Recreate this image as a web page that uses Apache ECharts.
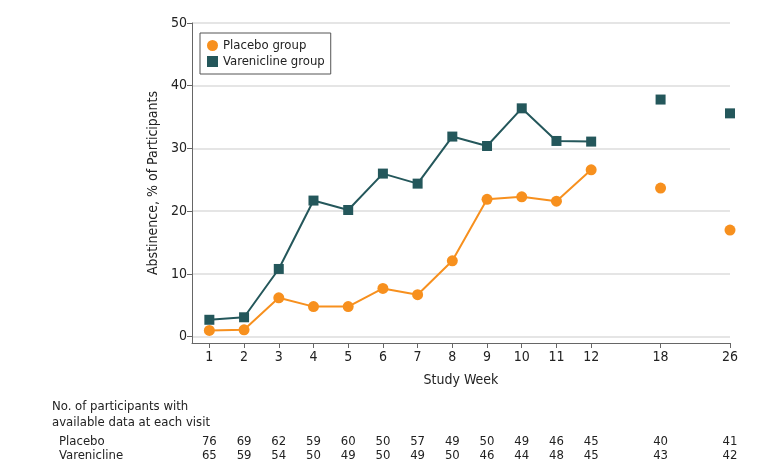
<!DOCTYPE html>
<html><head><meta charset="utf-8">
<script src="https://cdn.jsdelivr.net/npm/echarts@6/dist/echarts.min.js"></script>
<style>html,body{margin:0;padding:0;background:#fff}#c{width:780px;height:472px}</style>
</head><body><div id="c"></div>
<script>
// Data
const weeks = [1,2,3,4,5,6,7,8,9,10,11,12,18,26];
const placebo = [1.0,1.1,6.2,4.8,4.8,7.7,6.7,12.1,21.9,22.3,21.6,26.6,23.7,17.0];
const varenicline = [2.7,3.1,10.8,21.7,20.2,26.0,24.4,31.9,30.4,36.4,31.2,31.1,37.8,35.6];
const nPlacebo = [76,69,62,59,60,50,57,49,50,49,46,45,40,41];
const nVarenicline = [65,59,54,50,49,50,49,50,46,44,48,45,43,42];
const yTicks = [0,10,20,30,40,50];

// broken axis: weeks 1-12 one slot each, later visits two slots apart
const slot = i => i < 12 ? weeks[i] : 12 + (i - 11) * 2;
const slots = weeks.map((w, i) => slot(i));
const weekBySlot = {}; const npBySlot = {}; const nvBySlot = {};
slots.forEach((s, i) => { weekBySlot[s] = weeks[i]; npBySlot[s] = nPlacebo[i]; nvBySlot[s] = nVarenicline[i]; });
function seriesData(vals) {
  const out = [];
  vals.forEach((v, i) => {
    if (i >= 12) out.push([slot(i) - 1, '-']);
    out.push([slot(i), v]);
  });
  return out;
}

const FONT = "'Liberation Sans Narrow','DejaVu Sans Condensed','Roboto Condensed',sans-serif";
const TXT = '#222';
const ORANGE = '#F7901E';
const TEAL = '#24575B';

const chart = echarts.init(document.getElementById('c'), null, {renderer: 'canvas'});
const hiddenAxis = (offset, map) => ({
  type: 'value', position: 'bottom', min: 0.5, max: 16, offset: offset,
  axisLine: {show: false}, axisTick: {show: false}, splitLine: {show: false},
  axisLabel: {customValues: slots, margin: 0, fontFamily: FONT, fontSize: 13, color: TXT,
    formatter: v => String(map[v])}
});
chart.setOption({
  animation: false,
  textStyle: {fontFamily: FONT},
  grid: {left: 192, right: 50, top: 23, bottom: 129, containLabel: false},
  legend: {
    left: 200, top: 33, orient: 'vertical', itemGap: 3, itemWidth: 11, itemHeight: 11,
    padding: [6, 6, 6, 7], borderColor: '#555', borderWidth: 1,
    textStyle: {fontFamily: FONT, fontSize: 13, color: TXT},
    data: [{name: 'Placebo group', icon: 'circle'}, {name: 'Varenicline group', icon: 'rect'}]
  },
  xAxis: [{
    type: 'value', min: 0.5, max: 16, position: 'bottom',
    name: 'Study Week', nameLocation: 'middle', nameGap: 30,
    nameTextStyle: {fontFamily: FONT, fontSize: 14, color: TXT},
    axisLine: {onZero: false, lineStyle: {color: '#666', width: 1}},
    axisTick: {customValues: slots, length: 5, lineStyle: {color: '#666'}},
    axisLabel: {customValues: slots, margin: 7, fontFamily: FONT, fontSize: 14, color: TXT,
      formatter: v => String(weekBySlot[v])},
    splitLine: {show: false}
  }, hiddenAxis(92, npBySlot), hiddenAxis(106, nvBySlot)],
  yAxis: {
    type: 'value', min: -1, max: 50,
    name: 'Abstinence, % of Participants', nameLocation: 'middle', nameGap: 29,
    nameTextStyle: {fontFamily: FONT, fontSize: 14, color: TXT},
    axisLine: {show: true, onZero: false, lineStyle: {color: '#666', width: 1}},
    axisTick: {show: true, customValues: yTicks, length: 5, lineStyle: {color: '#666'}},
    axisLabel: {customValues: yTicks, margin: 5, fontFamily: FONT, fontSize: 14, color: TXT},
    splitLine: {show: true, lineStyle: {color: '#dcdcdc', width: 1.5}}
  },
  graphic: [
    {type: 'text', left: 52, top: 399, style: {text: 'No. of participants with\navailable data at each visit', font: "13px " + FONT, fill: TXT, lineHeight: 16}},
    {type: 'text', left: 59, top: 435, style: {text: 'Placebo', font: "13px " + FONT, fill: TXT}},
    {type: 'text', left: 59, top: 449, style: {text: 'Varenicline', font: "13px " + FONT, fill: TXT}}
  ],
  series: [{
    name: 'Placebo group', type: 'line', data: seriesData(placebo), connectNulls: false,
    symbol: 'circle', symbolSize: 11, color: ORANGE,
    lineStyle: {color: ORANGE, width: 2}, itemStyle: {color: ORANGE}, z: 3
  }, {
    name: 'Varenicline group', type: 'line', data: seriesData(varenicline), connectNulls: false,
    symbol: 'rect', symbolSize: 10, color: TEAL,
    lineStyle: {color: TEAL, width: 2}, itemStyle: {color: TEAL}, z: 4
  }]
});
</script></body></html>
